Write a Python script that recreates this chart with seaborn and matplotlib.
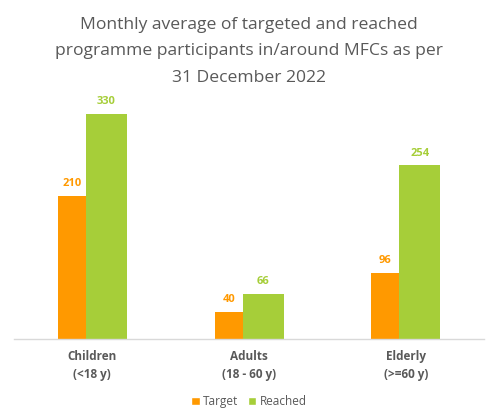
import matplotlib
matplotlib.use("Agg")
import matplotlib.pyplot as plt
import seaborn as sns
import pandas as pd

categories = ["Children\n(<18 y)", "Adults\n(18 - 60 y)", "Elderly\n(>=60 y)"]
series = ["Target", "Reached"]
target = [210, 40, 96]
reached = [330, 66, 254]

colors = {"Target": "#FF9900", "Reached": "#A6CE39"}
grey = "#595959"

df = pd.DataFrame({
    "Group": categories * 2,
    "Series": ["Target"] * 3 + ["Reached"] * 3,
    "Value": target + reached,
})

sns.set_theme(style="white")
plt.rcParams["font.family"] = ["Open Sans", "DejaVu Sans"]

fig = plt.figure(figsize=(4.98, 4.16), dpi=100)
ax = fig.add_axes([0.028, 0.185, 0.944, 0.575])

sns.barplot(data=df, x="Group", y="Value", hue="Series", palette=colors,
            hue_order=series, order=categories, ax=ax, width=0.44,
            saturation=1, legend=True)

# target bars are narrower than reached bars in the original
left_off, split_off, right_off = -0.219, -0.04, 0.222
for cont, name in zip(ax.containers, series):
    for i, bar in enumerate(cont):
        if name == "Target":
            bar.set_x(i + left_off)
            bar.set_width(split_off - left_off)
        else:
            bar.set_x(i + split_off)
            bar.set_width(right_off - split_off)
        bar.set_edgecolor("none")
    ax.bar_label(cont, padding=5, color=colors[name], fontsize=8,
                 fontweight="bold")

ax.set_xlim(-0.5, 2.5)
ax.set_ylim(0, 350)
ax.set_yticks([])
ax.set_xlabel("")
ax.set_ylabel("")
ax.tick_params(axis="x", length=0, pad=8, labelsize=8.5, labelcolor=grey)
for t in ax.get_xticklabels():
    t.set_fontweight("bold")
    t.set_linespacing(1.45)
for s in ["top", "left", "right"]:
    ax.spines[s].set_visible(False)
ax.spines["bottom"].set_color("#D9D9D9")
ax.spines["bottom"].set_linewidth(1)

leg = ax.legend(loc="upper center", bbox_to_anchor=(0.5, -0.19), ncol=2,
                frameon=False, fontsize=8.5, handlelength=0.7, handleheight=0.7,
                handletextpad=0.3, columnspacing=0.8)
for t in leg.get_texts():
    t.set_color(grey)

fig.text(0.5, 0.96,
         "Monthly average of targeted and reached\n"
         "programme participants in/around MFCs as per\n"
         "31 December 2022",
         ha="center", va="top", fontsize=12.6, color=grey, linespacing=1.9)

fig.savefig("out.png", dpi=100)
